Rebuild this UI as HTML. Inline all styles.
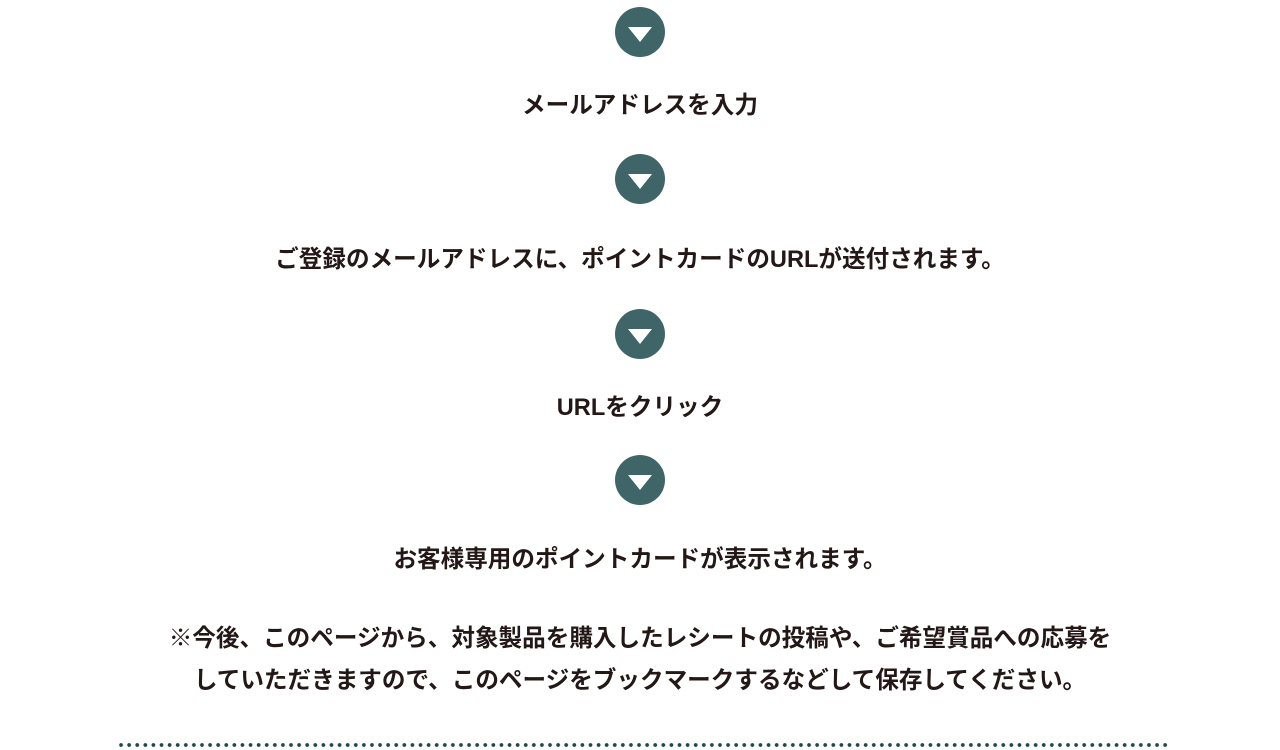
<!DOCTYPE html>
<html><head><meta charset="utf-8"><style>
body{margin:0;width:1280px;height:750px;background:#fff;position:relative;overflow:hidden;font-family:"Liberation Sans","Noto Sans CJK JP",sans-serif;color:#231815;font-weight:bold}
.c{position:absolute;left:615px;width:50px;height:50px;border-radius:50%;background:#3f6569}
.c:after{content:"";position:absolute;left:13px;top:20px;border-left:12px solid transparent;border-right:12px solid transparent;border-top:15px solid #fff}
.t{position:absolute;left:0;width:1280px;text-align:center;font-size:23.6px;line-height:30px;white-space:nowrap}
.dots{position:absolute;left:117px;top:742px;width:1054px;height:6px;background:radial-gradient(circle,#1f4a4d 1.7px,transparent 2.1px) 0 0/8.1px 6px repeat-x}
</style></head><body>
<div class="c" style="top:7px"></div>
<div class="t" style="top:91px">メールアドレスを入力</div>
<div class="c" style="top:154px"></div>
<div class="t" style="top:245px">ご登録のメールアドレスに、ポイントカードのURLが送付されます。</div>
<div class="c" style="top:309px"></div>
<div class="t" style="top:393px">URLをクリック</div>
<div class="c" style="top:455px"></div>
<div class="t" style="top:545px">お客様専用のポイントカードが表示されます。</div>
<div class="t" style="top:624px">※今後、このページから、対象製品を購入したレシートの投稿や、ご希望賞品への応募を</div>
<div class="t" style="top:666px">していただきますので、このページをブックマークするなどして保存してください。</div>
<div class="dots"></div>
</body></html>
